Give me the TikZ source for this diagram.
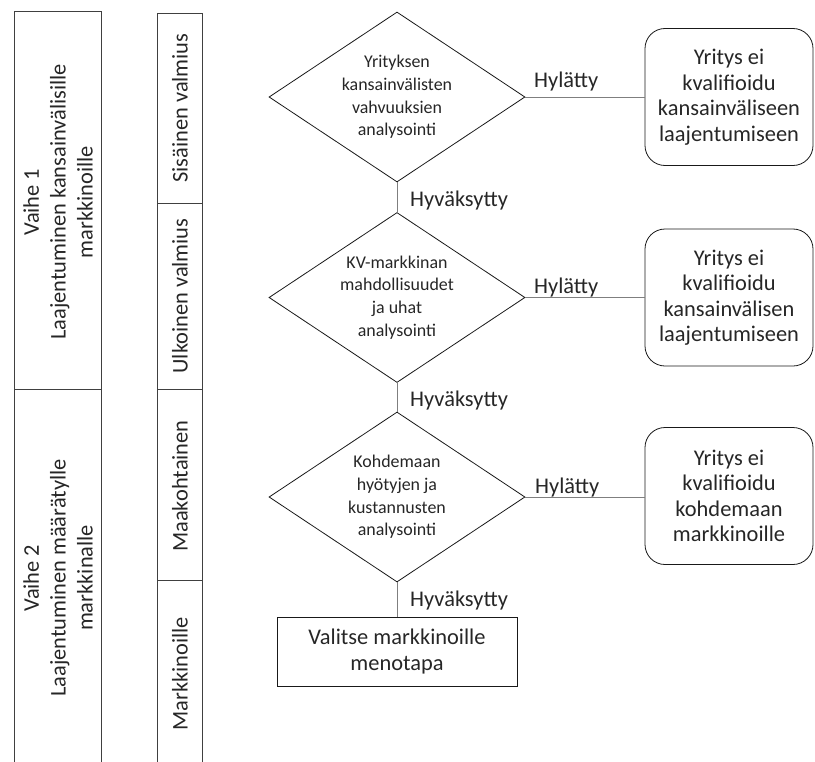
\documentclass[tikz,border=0pt]{standalone}
\usepackage{fontspec}
\setmainfont{Carlito}
\usetikzlibrary{shapes.geometric}
\definecolor{ink}{HTML}{262626}
\definecolor{frame}{HTML}{404040}
\definecolor{wire}{HTML}{7F7F7F}
\begin{document}
\begin{tikzpicture}[x=1bp,y=-1bp,
  txt/.style={text=ink, align=center, inner sep=0pt, font=\fontsize{22.5}{27}\selectfont},
  coltext/.style={txt, rotate=90},
  decision/.style={shape=diamond, draw=black!90, line width=0.8bp, aspect=1.5,
    minimum width=256bp, minimum height=170bp, inner sep=0pt, text=ink, align=center,
    font=\fontsize{18}{22.7}\selectfont},
  reject/.style={draw=black!90, line width=0.8bp, rounded corners=20bp,
    minimum width=168bp, minimum height=137bp, inner sep=0pt, text=ink, align=center,
    font=\fontsize{22.5}{25.6}\selectfont},
  action/.style={draw=black!90, line width=0.8bp, minimum width=240bp, minimum height=69bp,
    inner sep=0pt, text=ink, align=center, font=\fontsize{22.5}{27}\selectfont},
  conn/.style={draw=wire, line width=0.8bp},
  lbl/.style={txt, anchor=base west},
  colline/.style={draw=frame, line width=0.9bp}
]
\useasboundingbox (0,0) rectangle (815,762);

% phase column
\draw[colline] (14,762) -- (14,11) -- (101,11) -- (101,762);
\draw[colline] (14,389) -- (101,389);
\node[coltext] (ph1) at (58,202) {Vaihe 1\\Laajentuminen kansainvälisille\\markkinoille};
\node[coltext] (ph2) at (58,578) {Vaihe 2\\Laajentuminen määrätylle\\markkinalle};

% readiness column
\draw[colline] (157,762) -- (157,13) -- (202,13) -- (202,762);
\draw[colline] (157,203) -- (202,203);
\draw[colline] (157,389) -- (202,389);
\draw[colline] (157,580) -- (202,580);
\node[coltext] (c1) at (180,108) {Sisäinen valmius};
\node[coltext] (c2) at (180,296) {Ulkoinen valmius};
\node[coltext] (c3) at (180,486) {Maakohtainen};
\node[coltext] (c4) at (180,674) {Markkinoille};

% decisions
\node[decision] (d1) at (397,97) {Yrityksen\\kansainvälisten\\vahvuuksien\\analysointi};
\node[decision] (d2) at (397,297.5) {KV-markkinan\\mahdollisuudet\\ja uhat\\analysointi};
\node[decision] (d3) at (397,497) {Kohdemaan\\hyötyjen ja\\kustannusten\\analysointi};

% outcomes
\node[reject] (r1) at (729,97) {Yritys ei\\kvalifioidu\\kansainväliseen\\laajentumiseen};
\node[reject] (r2) at (729,297.5) {Yritys ei\\kvalifioidu\\kansainvälisen\\laajentumiseen};
\node[reject] (r3) at (729,496) {Yritys ei\\kvalifioidu\\kohdemaan\\markkinoille};
\node[action] (a1) at (397,651.5) {Valitse markkinoille\\menotapa};

% connectors
\draw[conn] (d1.south) -- (d2.north);
\draw[conn] (d2.south) -- (d3.north);
\draw[conn] (d3.south) -- (a1.north);
\draw[conn] (d1.east) -- (r1.west |- d1.east);
\draw[conn] (d2.east) -- (r2.west |- d2.east);
\draw[conn] (d3.east) -- (r3.west |- d3.east);

% connector labels
\node[lbl] (h1) at (410,206) {Hyväksytty};
\node[lbl] (h2) at (410,406.5) {Hyväksytty};
\node[lbl] (h3) at (410,606) {Hyväksytty};
\node[lbl] (n1) at (534,87) {Hylätty};
\node[lbl] (n2) at (534,293) {Hylätty};
\node[lbl] (n3) at (535,493) {Hylätty};
\end{tikzpicture}
\end{document}
